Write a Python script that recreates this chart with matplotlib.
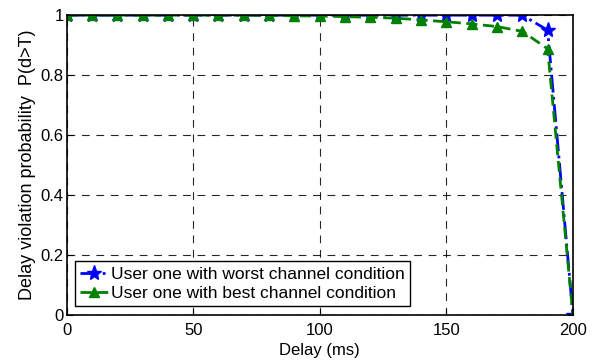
import numpy as np
import matplotlib.pyplot as plt

plt.rcParams['font.family'] = ['Liberation Sans', 'DejaVu Sans']

# delay thresholds (ms)
delay = [0, 10, 20, 30, 40, 50, 60, 70, 80, 90, 100,
         110, 120, 130, 140, 150, 160, 170, 180, 190, 200]

# P(d>T)
worst = [1, 1, 1, 1, 1, 1, 1, 1, 1, 1, 1,
         1, 1, 1, 1, 1, 1, 1, 1, 0.95, 0]
best = [1, 1, 1, 1, 1, 1, 1, 1, 0.999, 0.998, 0.997,
        0.995, 0.993, 0.99, 0.984, 0.978, 0.971, 0.962, 0.946, 0.888, 0]

fig = plt.figure(figsize=(6.05, 3.61), dpi=100)
ax = fig.add_axes([0.110, 0.127, 0.837, 0.831])

ax.plot(delay, worst, color='blue', linestyle='-.', linewidth=2,
        marker='*', markersize=11, label='User one with worst channel condition')
ax.plot(delay, best, color='green', linestyle=(0, (4, 2)), linewidth=2,
        marker='^', markersize=7, label='User one with best channel condition')

ax.set_xlim(0, 200)
ax.set_ylim(0, 1)
ax.set_xticks([0, 50, 100, 150, 200])
ax.set_yticks([0, 0.2, 0.4, 0.6, 0.8, 1])
ax.set_yticklabels(['0', '0.2', '0.4', '0.6', '0.8', '1'])
ax.tick_params(direction='in', labelsize=12, length=4)
ax.tick_params(axis='x', pad=6)
ax.tick_params(axis='y', pad=2)
ax.grid(True, linestyle=(0, (7, 6)), color='black', linewidth=0.8, alpha=0.85)
for s in ax.spines.values():
    s.set_linewidth(1.2)

ax.set_xlabel('Delay (ms)', fontsize=12, labelpad=3)
ax.set_ylabel('Delay violation probability  P(d>T)', fontsize=13, labelpad=3)

leg = ax.legend(loc='lower left', fontsize=12.5, fancybox=False, framealpha=1,
                edgecolor='black', handlelength=1.6, handletextpad=0.15,
                borderpad=0.3, labelspacing=0.25, borderaxespad=0.5)
leg.get_frame().set_linewidth(1)

fig.savefig('out.png', dpi=100)
